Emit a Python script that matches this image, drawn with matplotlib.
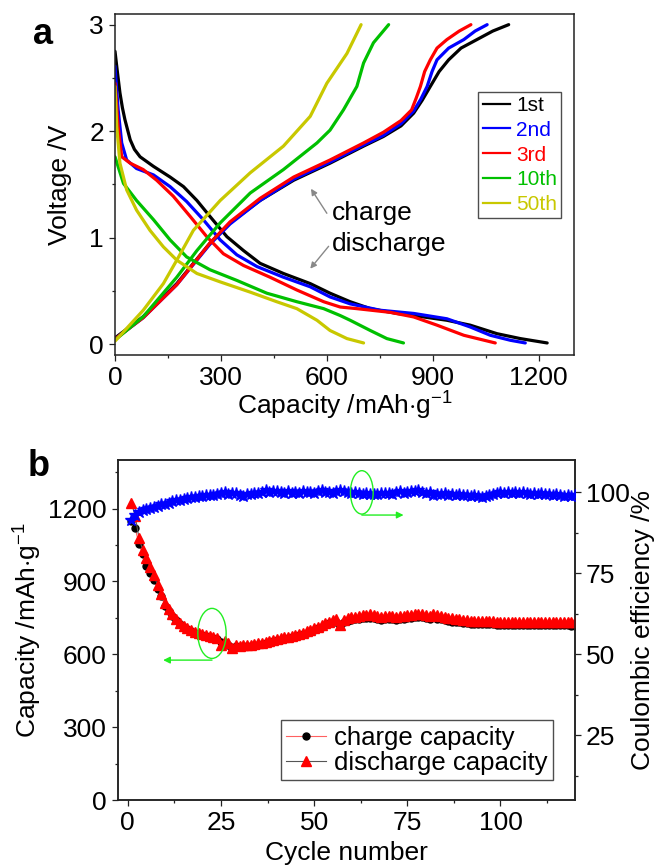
import matplotlib
matplotlib.use("Agg")
import matplotlib.pyplot as plt
from matplotlib.patches import Ellipse
from matplotlib.lines import Line2D
from matplotlib.ticker import MultipleLocator

plt.rcParams['font.family'] = ['Liberation Sans', 'DejaVu Sans']
plt.rcParams['mathtext.fontset'] = 'custom'
plt.rcParams['mathtext.rm'] = 'Liberation Sans'
plt.rcParams['mathtext.it'] = 'Liberation Sans'

# ---------------- Panel a data: voltage profiles ----------------
labels_a = ["1st", "2nd", "3rd", "10th", "50th"]
colors_a = ["#000000", "#0000ff", "#ff0000", "#00c000", "#c8c800"]

dis1_cap = [0, 7, 14, 21, 28, 43, 55, 71, 109, 156, 194, 232, 269, 317, 364, 411, 477, 553, 609, 666, 723, 799, 874, 940, 1006, 1082, 1148, 1224]
dis1_v = [2.75, 2.55, 2.36, 2.22, 2.11, 1.92, 1.83, 1.76, 1.67, 1.57, 1.48, 1.35, 1.20, 1.01, 0.88, 0.76, 0.665, 0.57, 0.48, 0.40, 0.335, 0.29, 0.257, 0.226, 0.18, 0.10, 0.054, 0.013]
chg1_cap = [0, 80, 175, 269, 326, 411, 506, 609, 704, 760, 810, 846, 870, 893, 918, 945, 980, 1025, 1070, 1115]
chg1_v = [0.06, 0.26, 0.57, 0.95, 1.14, 1.35, 1.54, 1.70, 1.86, 1.95, 2.05, 2.17, 2.29, 2.42, 2.56, 2.67, 2.78, 2.86, 2.94, 3.0]

dis2_cap = [0, 9, 19, 33, 61, 109, 156, 203, 250, 298, 345, 402, 477, 553, 609, 666, 751, 846, 940, 1006, 1063, 1120, 1162]
dis2_v = [2.61, 2.20, 1.89, 1.73, 1.65, 1.59, 1.48, 1.34, 1.17, 0.98, 0.84, 0.73, 0.63, 0.54, 0.445, 0.38, 0.32, 0.29, 0.24, 0.163, 0.085, 0.038, 0.013]
chg2_cap = [0, 80, 175, 269, 326, 411, 506, 609, 704, 760, 810, 846, 866, 884, 898, 912, 945, 988, 1020, 1054]
chg2_v = [0.05, 0.25, 0.56, 0.94, 1.13, 1.35, 1.55, 1.71, 1.87, 1.96, 2.07, 2.19, 2.30, 2.42, 2.56, 2.67, 2.78, 2.86, 2.94, 3.0]

dis3_cap = [0, 9, 19, 43, 80, 118, 165, 213, 260, 307, 364, 439, 515, 591, 638, 685, 780, 846, 912, 988, 1077]
dis3_v = [2.45, 2.04, 1.76, 1.70, 1.64, 1.54, 1.39, 1.20, 1.01, 0.85, 0.74, 0.63, 0.51, 0.40, 0.35, 0.335, 0.30, 0.257, 0.18, 0.085, 0.013]
chg3_cap = [0, 80, 175, 269, 326, 411, 506, 609, 704, 760, 810, 840, 853, 865, 877, 893, 912, 940, 975, 1008]
chg3_v = [0.05, 0.25, 0.56, 0.95, 1.15, 1.37, 1.57, 1.73, 1.89, 1.99, 2.10, 2.20, 2.31, 2.42, 2.56, 2.67, 2.78, 2.86, 2.94, 3.0]

dis10_cap = [0, 24, 61, 109, 156, 203, 269, 345, 430, 515, 591, 638, 666, 723, 770, 817]
dis10_v = [1.76, 1.51, 1.35, 1.17, 0.98, 0.82, 0.70, 0.60, 0.48, 0.40, 0.335, 0.27, 0.226, 0.13, 0.054, 0.013]
chg10_cap = [0, 80, 175, 232, 298, 383, 477, 572, 609, 647, 685, 704, 732, 775]
chg10_v = [0.04, 0.26, 0.63, 0.88, 1.14, 1.42, 1.64, 1.89, 2.01, 2.20, 2.42, 2.64, 2.83, 3.0]

dis50_cap = [0, 5, 14, 33, 61, 99, 137, 175, 232, 298, 383, 458, 515, 572, 609, 657, 704]
dis50_v = [2.42, 2.04, 1.70, 1.45, 1.26, 1.07, 0.915, 0.79, 0.665, 0.586, 0.49, 0.40, 0.335, 0.226, 0.13, 0.054, 0.013]
chg50_cap = [0, 80, 137, 175, 222, 298, 383, 477, 553, 600, 657, 697]
chg50_v = [0.03, 0.32, 0.57, 0.79, 1.07, 1.35, 1.61, 1.86, 2.14, 2.45, 2.73, 3.0]

# ---------------- Panel b data: cycling ----------------
cycles = list(range(1, 121))
discharge_cap = [1223, 1168, 1080, 1030, 995, 960, 925, 885, 850, 810,
                 785, 765, 745, 730, 718, 708, 700, 693, 688, 684,
                 680, 677, 673, 668, 640, 655, 648, 625, 638, 636,
                 638, 640, 637, 642, 645, 648, 650, 654, 658, 663,
                 666, 670, 673, 676, 679, 684, 689, 694, 700, 707,
                 714, 721, 728, 735, 740, 744, 722, 742, 748, 752,
                 755, 758, 761, 763, 764, 760, 757, 755, 756, 757,
                 756, 755, 756, 758, 760, 762, 764, 766, 764, 760,
                 756, 765, 760, 756, 753, 750, 748, 746, 744, 742,
                 740, 739, 738, 737, 737, 736, 736, 736, 735, 735,
                 735, 735, 734, 734, 734, 734, 734, 733, 733, 733,
                 733, 733, 733, 732, 732, 732, 732, 732, 731, 731]
charge_cap = [1150, 1118, 1056, 1012, 964, 935, 905, 870, 838, 800,
              778, 758, 740, 725, 713, 703, 695, 688, 683, 679,
              675, 672, 668, 662, 650, 645, 640, 620, 634, 632,
              634, 636, 633, 638, 640, 643, 645, 649, 653, 657,
              660, 664, 667, 670, 673, 678, 683, 688, 694, 700,
              707, 714, 720, 727, 732, 735, 716, 733, 738, 741,
              744, 746, 748, 750, 751, 748, 745, 743, 744, 745,
              744, 743, 744, 746, 748, 750, 752, 754, 752, 748,
              745, 752, 747, 744, 741, 738, 735, 733, 731, 729,
              727, 726, 725, 724, 724, 723, 723, 723, 722, 722,
              722, 722, 721, 721, 721, 721, 721, 720, 720, 720,
              720, 720, 720, 719, 719, 719, 719, 719, 718, 718]
coulombic_eff = [91.5, 93.0, 94.0, 94.5, 95.0, 95.2, 95.6, 95.8, 96.3, 96.5,
                 96.8, 97.2, 97.6, 97.8, 98.0, 98.3, 98.6, 98.6, 98.9, 99.0,
                 99.1, 99.3, 99.2, 99.6, 99.8, 100.0, 99.6, 99.9, 99.7, 99.3,
                 98.8, 99.5, 99.6, 99.9, 99.8, 100.2, 100.6, 100.1, 100.3, 100.5,
                 100.2, 99.8, 100.4, 99.9, 100.1, 99.8, 100.3, 100.0, 100.2, 99.9,
                 100.3, 100.6, 100.1, 100.2, 99.9, 100.4, 100.7, 100.3, 100.1, 99.9,
                 100.2, 99.7, 99.5, 99.9, 99.4, 99.6, 99.5, 99.8, 99.7, 99.9,
                 99.6, 100.0, 100.3, 99.9, 100.2, 100.5, 100.3, 100.6, 100.1, 99.8,
                 100.0, 99.2, 99.6, 99.4, 99.7, 99.3, 99.5, 99.2, 99.4, 99.1,
                 99.3, 99.0, 99.2, 98.9, 98.7, 99.0, 99.3, 99.6, 99.9, 100.1,
                 99.8, 100.2, 99.9, 100.0, 99.7, 100.1, 99.8, 99.6, 99.9, 99.5,
                 99.7, 99.4, 99.6, 99.3, 99.5, 99.2, 99.0, 99.3, 98.8, 99.1]

FS = 19
fig = plt.figure(figsize=(6.59, 8.68), dpi=100)

def style_axis(ax):
    for s in ax.spines.values():
        s.set_linewidth(1.1)
        s.set_color('#222222')
    ax.tick_params(which='major', direction='out', length=4, width=0.9, labelsize=FS, pad=4, color='#222222')
    ax.tick_params(which='minor', direction='out', length=2.5, width=0.9, color='#222222')

# ---------------- Panel a ----------------
W, H = 659, 868
axa = fig.add_axes([115 / W, 1 - 355 / H, (574 - 115) / W, (355 - 14) / H])
curves = [(dis1_cap, dis1_v, chg1_cap, chg1_v),
          (dis2_cap, dis2_v, chg2_cap, chg2_v),
          (dis3_cap, dis3_v, chg3_cap, chg3_v),
          (dis10_cap, dis10_v, chg10_cap, chg10_v),
          (dis50_cap, dis50_v, chg50_cap, chg50_v)]
handles = []
for (dc, dv, cc, cv), col, lab in zip(curves, colors_a, labels_a):
    axa.plot(dc, dv, color=col, lw=2.3, solid_joinstyle='round', solid_capstyle='round')
    axa.plot(cc, cv, color=col, lw=2.3, solid_joinstyle='round', solid_capstyle='round')
    handles.append(Line2D([], [], color=col, lw=1.6, label=lab))
axa.set_xlim(0, 1300)
axa.set_ylim(-0.1, 3.1)
axa.xaxis.set_major_locator(MultipleLocator(300))
axa.xaxis.set_minor_locator(MultipleLocator(150))
axa.yaxis.set_major_locator(MultipleLocator(1))
axa.yaxis.set_minor_locator(MultipleLocator(0.5))
style_axis(axa)
axa.set_xlabel("Capacity /mAh$\\cdot$g$^{-1}$", fontsize=FS, labelpad=0)
axa.set_ylabel("Voltage /V", fontsize=FS, labelpad=12)
leg = axa.legend(handles=handles, loc='upper right', bbox_to_anchor=(0.972, 0.772),
                 fontsize=15, frameon=True, fancybox=False, handlelength=1.3,
                 handletextpad=0.3, labelspacing=0.28, borderpad=0.2, borderaxespad=0,
                 labelcolor='linecolor')
leg.get_frame().set_edgecolor('#222222')
leg.get_frame().set_linewidth(1.0)
axa.annotate('', xy=(555, 1.46), xytext=(600, 1.23),
             arrowprops=dict(arrowstyle='-|>', color='#888888', lw=1.0, mutation_scale=9, shrinkA=0, shrinkB=0))
axa.annotate('', xy=(553, 0.71), xytext=(605, 0.92),
             arrowprops=dict(arrowstyle='-|>', color='#888888', lw=1.0, mutation_scale=9, shrinkA=0, shrinkB=0))
axa.text(615, 1.23, "charge", fontsize=FS, va='center', ha='left')
axa.text(615, 0.94, "discharge", fontsize=FS, va='center', ha='left')
fig.text(33 / W, 1 - 44 / H, "a", fontsize=26, fontweight='bold', va='baseline', ha='left')

# ---------------- Panel b ----------------
axb = fig.add_axes([117.7 / W, 1 - 800 / H, (575 - 117.7) / W, (800 - 460) / H])
l_chg, = axb.plot(cycles, charge_cap, color='#ff6060', lw=0.8, marker='o', ms=5,
                  mfc='black', mec='black', zorder=2)
l_dis, = axb.plot(cycles, discharge_cap, color='#555555', lw=0.8, marker='^', ms=7.5,
                  mfc='red', mec='red', zorder=3)
axb.set_xlim(-2.7, 120)
axb.set_ylim(0, 1400)
axb.xaxis.set_major_locator(MultipleLocator(25))
axb.xaxis.set_minor_locator(MultipleLocator(12.5))
axb.yaxis.set_major_locator(MultipleLocator(300))
axb.yaxis.set_minor_locator(MultipleLocator(150))
style_axis(axb)
axb.set_xlabel("Cycle number", fontsize=FS, labelpad=4)
axb.set_ylabel("Capacity /mAh$\\cdot$g$^{-1}$", fontsize=FS, labelpad=3)
axb.add_patch(Ellipse((22.6, 686), width=7.6, height=206, fill=False, edgecolor='#22ee22', lw=1.0, zorder=5))
axb.annotate('', xy=(9.5, 576), xytext=(22.6, 576),
             arrowprops=dict(arrowstyle='-|>', color='#22ee22', lw=1.0, mutation_scale=10, shrinkA=0, shrinkB=0))

axc = axb.twinx()
axc.plot(cycles, coulombic_eff, color='blue', lw=0.6, marker='*', ms=9, mfc='blue', mec='blue', zorder=3)
axc.set_ylim(5, 110)
axc.yaxis.set_major_locator(MultipleLocator(25))
axc.yaxis.set_minor_locator(MultipleLocator(12.5))
style_axis(axc)
axc.set_ylabel("Coulombic efficiency /%", fontsize=FS, labelpad=1)
axc.add_patch(Ellipse((62.8, 100), width=6.1, height=13.4, fill=False, edgecolor='#22ee22', lw=1.0, zorder=5))
axc.annotate('', xy=(74, 93), xytext=(62.8, 93),
             arrowprops=dict(arrowstyle='-|>', color='#22ee22', lw=1.0, mutation_scale=10, shrinkA=0, shrinkB=0))
legb = axc.legend([l_chg, l_dis], ["charge capacity", "discharge capacity"],
                  loc='lower right', bbox_to_anchor=(0.951, 0.059), fontsize=18.5,
                  frameon=True, fancybox=False, handlelength=1.55, handletextpad=0.3,
                  labelspacing=0.05, borderpad=0.2, borderaxespad=0)
legb.get_frame().set_edgecolor('#222222')
legb.get_frame().set_linewidth(1.0)
legb.set_zorder(10)
fig.text(28 / W, 1 - 476 / H, "b", fontsize=26, fontweight='bold', va='baseline', ha='left')

fig.savefig("out.png", dpi=100)
